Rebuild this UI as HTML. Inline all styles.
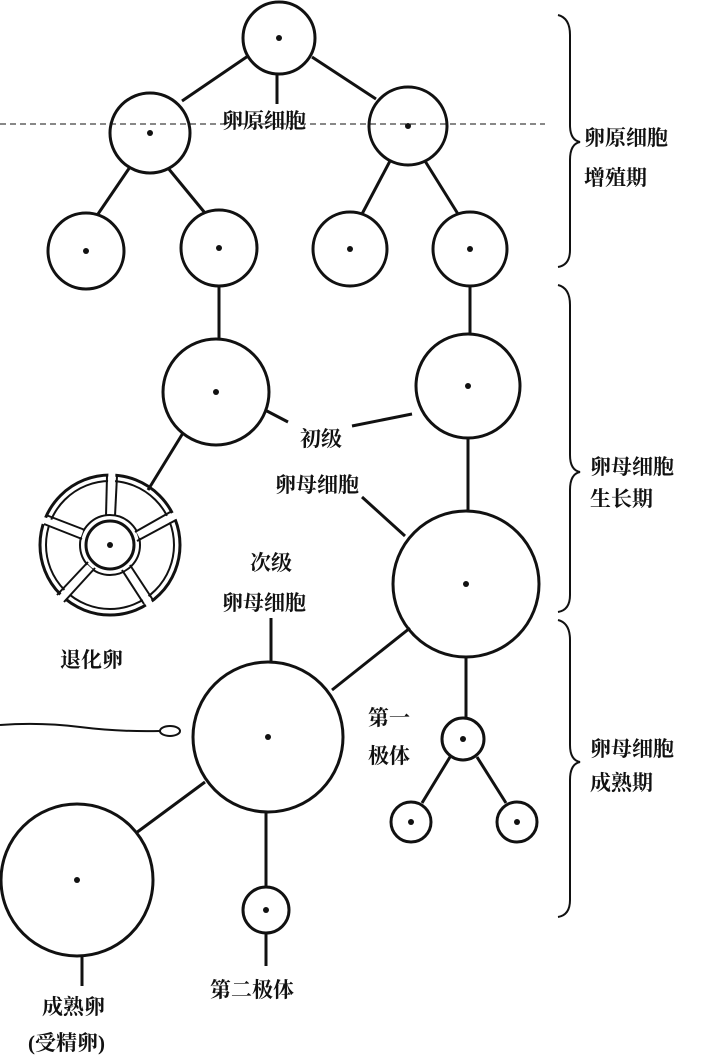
<!DOCTYPE html>
<html><head><meta charset="utf-8"><style>
body{margin:0;background:#fff;}
svg{display:block}
text{font-family:"Liberation Serif","Noto Serif CJK SC","Noto Sans CJK SC",serif;font-size:21px;fill:#111;font-weight:bold}
</style></head><body>
<svg width="709" height="1057" viewBox="0 0 709 1057" xmlns="http://www.w3.org/2000/svg">
<g stroke="#111" stroke-width="3" fill="none">
<line x1="0" y1="124" x2="545" y2="124" stroke-width="1" stroke-dasharray="6,4"/>
<circle cx="279" cy="38" r="36"/>
<circle cx="150" cy="133" r="40"/>
<circle cx="408" cy="126" r="39"/>
<circle cx="86" cy="251" r="38"/>
<circle cx="219" cy="248" r="38"/>
<circle cx="350" cy="249" r="37"/>
<circle cx="470" cy="249" r="37"/>
<circle cx="216" cy="392" r="53"/>
<circle cx="468" cy="386" r="52"/>
<circle cx="466" cy="584" r="73"/>
<circle cx="268" cy="737" r="75"/>
<circle cx="463" cy="739" r="21"/>
<circle cx="411" cy="822" r="20"/>
<circle cx="517" cy="822" r="20"/>
<circle cx="77" cy="880" r="76"/>
<circle cx="266" cy="910" r="23"/>
<circle cx="110" cy="545" r="70"/>
<circle cx="110" cy="545" r="64" stroke-width="2"/>
<circle cx="110" cy="545" r="30" stroke-width="2"/>
<circle cx="110" cy="545" r="24"/>
<line x1="248" y1="56" x2="182" y2="101"/>
<line x1="312" y1="57" x2="376" y2="99"/>
<line x1="277" y1="74" x2="277" y2="104"/>
<line x1="130" y1="167" x2="98" y2="214"/>
<line x1="168" y1="168" x2="205" y2="213"/>
<line x1="390" y1="161" x2="362" y2="214"/>
<line x1="425" y1="161" x2="458" y2="214"/>
<line x1="219" y1="286" x2="219" y2="339"/>
<line x1="470" y1="286" x2="470" y2="334"/>
<line x1="183" y1="433" x2="148" y2="490"/>
<line x1="468" y1="438" x2="468" y2="512"/>
<line x1="265" y1="410" x2="288" y2="422"/>
<line x1="352" y1="426" x2="412" y2="414"/>
<line x1="362" y1="497" x2="405" y2="536"/>
<line x1="410" y1="628" x2="332" y2="690"/>
<line x1="466" y1="657" x2="466" y2="718"/>
<line x1="271" y1="618" x2="271" y2="662"/>
<line x1="205" y1="782" x2="136" y2="833"/>
<line x1="266" y1="812" x2="266" y2="887"/>
<line x1="450" y1="757" x2="422" y2="803"/>
<line x1="477" y1="757" x2="506" y2="803"/>
<line x1="82" y1="956" x2="82" y2="986"/>
<line x1="266" y1="933" x2="266" y2="966"/>
<path d="M0 725 Q40 722 80 727 T160 731" stroke-width="2"/>
<ellipse cx="170" cy="731" rx="10" ry="5" stroke-width="2"/>
<path d="M558 15 Q570 18 570 35 L570 125 Q570 140 580 142 Q570 144 570 160 L570 250 Q570 265 558 267" stroke-width="2"/>
<path d="M558 285 Q570 288 570 305 L570 455 Q570 470 580 472 Q570 474 570 490 L570 595 Q570 610 558 612" stroke-width="2"/>
<path d="M558 620 Q570 623 570 640 L570 745 Q570 760 580 762 Q570 764 570 780 L570 900 Q570 915 558 917" stroke-width="2"/>
</g>
<g stroke="#fff" stroke-width="7">
<line x1="110" y1="514" x2="112" y2="472"/>
<line x1="138" y1="535" x2="176" y2="515"/>
<line x1="128" y1="570" x2="150" y2="605"/>
<line x1="90" y1="567" x2="60" y2="600"/>
<line x1="82" y1="534" x2="42" y2="520"/>
</g>
<g stroke="#111" stroke-width="2">
<line x1="106" y1="516" x2="107" y2="476"/><line x1="115" y1="516" x2="117" y2="476"/>
<line x1="135" y1="532" x2="172" y2="511"/><line x1="137" y1="541" x2="176" y2="520"/>
<line x1="122" y1="570" x2="144" y2="604"/><line x1="130" y1="565" x2="153" y2="600"/>
<line x1="88" y1="562" x2="57" y2="595"/><line x1="95" y1="568" x2="64" y2="602"/>
<line x1="82" y1="539" x2="44" y2="524"/><line x1="85" y1="530" x2="46" y2="515"/>
</g>
<g fill="#111">
<circle cx="279" cy="38" r="3"/><circle cx="150" cy="133" r="3"/><circle cx="408" cy="126" r="3"/>
<circle cx="86" cy="251" r="3"/><circle cx="219" cy="248" r="3"/><circle cx="350" cy="249" r="3"/><circle cx="470" cy="249" r="3"/>
<circle cx="216" cy="392" r="3"/><circle cx="468" cy="386" r="3"/><circle cx="110" cy="545" r="3"/>
<circle cx="466" cy="584" r="3"/><circle cx="268" cy="737" r="3"/><circle cx="463" cy="739" r="3"/>
<circle cx="411" cy="822" r="3"/><circle cx="517" cy="822" r="3"/><circle cx="77" cy="880" r="3"/><circle cx="266" cy="910" r="3"/>
</g>
<text x="222" y="128">卵原细胞</text>
<text x="300" y="446">初级</text>
<text x="275" y="492">卵母细胞</text>
<text x="250" y="570">次级</text>
<text x="222" y="610">卵母细胞</text>
<text x="60" y="667">退化卵</text>
<text x="368" y="725">第一</text>
<text x="368" y="763">极体</text>
<text x="210" y="997">第二极体</text>
<text x="42" y="1014">成熟卵</text>
<text x="28" y="1050">(受精卵)</text>
<text x="584" y="145">卵原细胞</text>
<text x="584" y="185">增殖期</text>
<text x="590" y="474">卵母细胞</text>
<text x="590" y="506">生长期</text>
<text x="590" y="756">卵母细胞</text>
<text x="590" y="790">成熟期</text>
</svg>
</body></html>
